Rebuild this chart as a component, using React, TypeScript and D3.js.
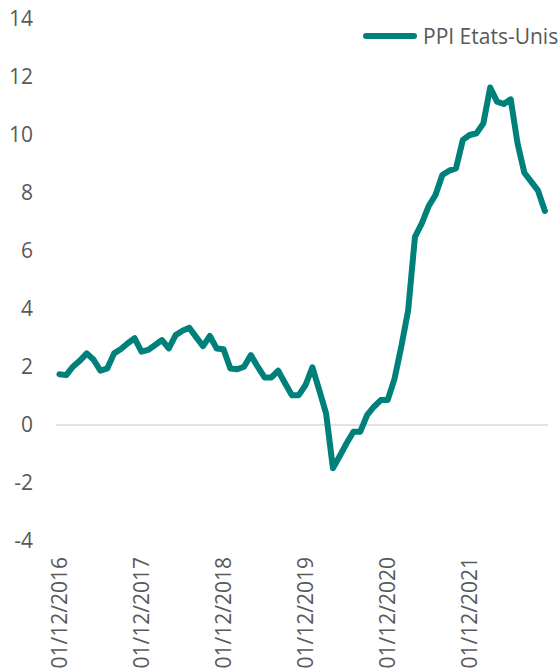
import * as d3 from 'd3';

// Monthly categories, Dec 2016 -> Nov 2022
const months = d3.timeMonth.range(new Date(2016, 11, 1), new Date(2022, 11, 1));
const fmt = d3.timeFormat('%d/%m/%Y');
const categories = months.map(fmt);

// PPI Etats-Unis, % yoy
const ppi = [
  1.75, 1.72, 2.02, 2.22, 2.47, 2.25, 1.87, 1.95, 2.47, 2.62, 2.82, 2.99,
  2.53, 2.59, 2.76, 2.93, 2.64, 3.1, 3.25, 3.35, 3.03, 2.72, 3.07, 2.64,
  2.61, 1.95, 1.92, 2.01, 2.41, 2.01, 1.64, 1.64, 1.87, 1.44, 1.03, 1.03,
  1.38, 1.99, 1.2, 0.4, -1.49, -1.07, -0.63, -0.23, -0.23, 0.34, 0.63, 0.86,
  0.86, 1.58, 2.7, 3.95, 6.49, 6.95, 7.55, 7.93, 8.62, 8.77, 8.85, 9.83,
  10.0, 10.06, 10.4, 11.64, 11.15, 11.07, 11.23, 9.71, 8.7, 8.39, 8.08, 7.38,
];

const yTicks = [-4, -2, 0, 2, 4, 6, 8, 10, 12, 14];
const xTickLabels = categories.filter((_, i) => i % 12 === 0);

const seriesName = 'PPI Etats-Unis';

const W = 559;
const H = 670;
const TEAL = '#00807B';
const TXT = '#595959';
const FONT = '"Open Sans", sans-serif';

export default function App() {
  const x = d3.scaleBand<string>().domain(categories).range([56, 548.3]);
  const y = d3.scaleLinear().domain([-4, 14]).range([541, 19]);
  const cx = (c: string) => (x(c) ?? 0) + x.bandwidth() / 2;

  const line = d3.line<number>()
    .x((_, i) => cx(categories[i]))
    .y(d => y(d));

  return (
    <svg width={W} height={H} style={{ position: 'absolute', left: 0, top: 0, background: '#fff' }}
      fontFamily={FONT}>
      {/* zero axis line */}
      <line x1={56} x2={548.3} y1={y(0)} y2={y(0)} stroke="#D9D9D9" strokeWidth={1.5} />

      {/* y tick labels */}
      {yTicks.map(t => (
        <text key={t} x={33} y={y(t)} dy="0.35em" textAnchor="end" fontSize={21} fill={TXT}>{t}</text>
      ))}

      {/* x tick labels, rotated */}
      {xTickLabels.map(c => (
        <text key={c} transform={`translate(${cx(c)},557) rotate(-90)`} dy="0.35em"
          textAnchor="end" fontSize={21} fill={TXT}>{c}</text>
      ))}

      <path d={line(ppi) ?? ''} fill="none" stroke={TEAL} strokeWidth={6}
        strokeLinejoin="round" strokeLinecap="round" />

      {/* legend */}
      <line x1={366} x2={414} y1={36} y2={36} stroke={TEAL} strokeWidth={6} strokeLinecap="round" />
      <text x={423} y={43.5} fontSize={21} fill={TXT}>{seriesName}</text>
    </svg>
  );
}
